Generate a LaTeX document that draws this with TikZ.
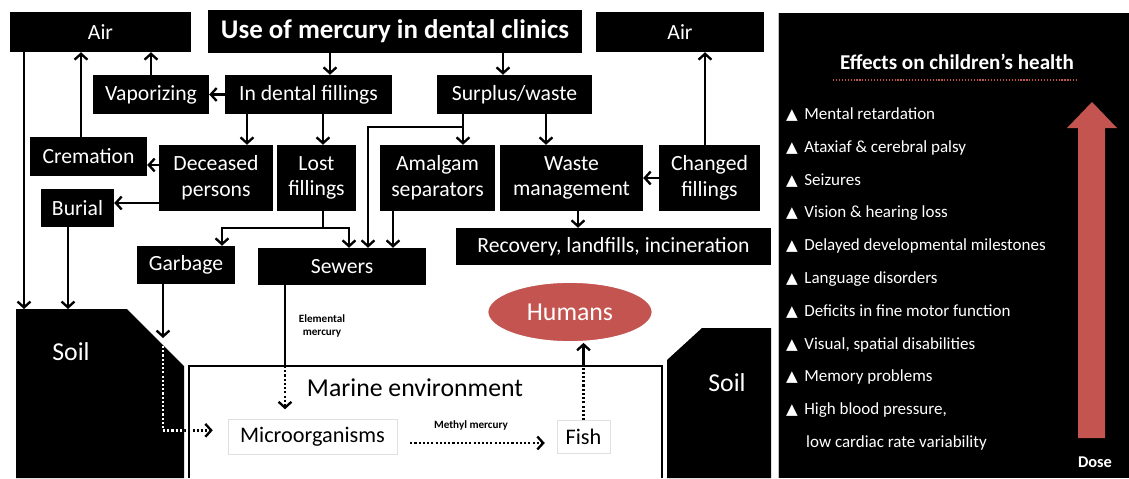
\documentclass[tikz,border=0pt]{standalone}
\usepackage{fontspec}
\setmainfont{Carlito}
\newfontfamily\symfont{DejaVu Sans}
\usetikzlibrary{arrows.meta,shapes.geometric}
\definecolor{dosered}{HTML}{C4544F}

\begin{document}
\begin{tikzpicture}[x=0.03cm,y=-0.03cm]
	\tikzstyle{blackbox}=[rectangle, fill=black, text=white, inner sep=0pt, align=center, font=\fontsize{18.5}{22}\selectfont]
	\tikzstyle{whitebox}=[rectangle, fill=white, draw=black!12, inner sep=0pt, font=\fontsize{19}{22}\selectfont]
	\tikzstyle{arr}=[-{Straight Barb[length=5pt,width=11pt]}, line width=2pt]
	\tikzstyle{dotarr}=[arr, dash pattern=on 1.8pt off 1.8pt]
	\tikzstyle{dotline}=[-, line width=2pt, dash pattern=on 1.8pt off 1.8pt]
	\tikzstyle{line}=[-, line width=2pt]
	\tikzstyle{effect}=[anchor=west, text=white, inner sep=0pt, font=\fontsize{14.5}{16}\selectfont]
	\tikzstyle{tiny}=[inner sep=0pt, align=center, font=\bfseries\fontsize{9.5}{11}\selectfont]
	\fill[white] (0,0) rectangle (1129,478);
	\useasboundingbox (0,0) rectangle (1129,478);

	% soil and sea
	\fill (16,478) -- (16,309) -- (127,309) -- (184,366) -- (184,478) -- cycle;
	\fill (667,478) -- (667,360) -- (702,328) -- (771,328) -- (771,478) -- cycle;
	\draw[line width=1.5pt] (189,478) -- (189,366) -- (662,366) -- (662,478);
	\node (soilL) [text=white, font=\fontsize{22}{24}\selectfont] at (71,352) {Soil};
	\node (soilR) [text=white, font=\fontsize{22}{24}\selectfont] at (727,383) {Soil};
	\node (marine) [font=\fontsize{22}{24}\selectfont] at (415,388) {Marine environment};

	% boxes
	\node (airL) [blackbox, minimum width=5.43cm, minimum height=1.2cm] at (100.5,32) {Air};
	\node (title) [blackbox, minimum width=11.22cm, minimum height=1.29cm, font=\bfseries\fontsize{23}{26}\selectfont] at (395,31.5) {Use of mercury in dental clinics};
	\node (airR) [blackbox, minimum width=5.04cm, minimum height=1.2cm] at (680,32) {Air};
	\node (vapor) [blackbox, minimum width=3.48cm, minimum height=1.17cm] at (151,94.5) {Vaporizing};
	\node (indental) [blackbox, minimum width=5.01cm, minimum height=1.17cm] at (308.5,94.5) {In dental fillings};
	\node (surplus) [blackbox, minimum width=4.65cm, minimum height=1.17cm] at (514.5,94.5) {Surplus/waste};
	\node (cremation) [blackbox, minimum width=3.51cm, minimum height=1.17cm] at (88.5,156.5) {Cremation};
	\node (deceased) [blackbox, minimum width=3.42cm, minimum height=1.98cm] at (216,178) {Deceased\\persons};
	\node (lost) [blackbox, minimum width=2.37cm, minimum height=1.98cm] at (316.5,178) {Lost\\fillings};
	\node (amalgam) [blackbox, minimum width=3.45cm, minimum height=1.98cm] at (437.5,178) {Amalgam\\separators};
	\node (waste) [blackbox, minimum width=4.29cm, minimum height=1.98cm] at (571.5,178) {Waste\\management};
	\node (changed) [blackbox, minimum width=3.03cm, minimum height=1.98cm] at (709.5,178) {Changed\\fillings};
	\node (burial) [blackbox, minimum width=2.19cm, minimum height=1.14cm] at (77.5,208) {Burial};
	\node (recovery) [blackbox, minimum width=9.45cm, minimum height=1.11cm] at (613.5,246.5) {Recovery, landfills, incineration};
	\node (garbage) [blackbox, minimum width=2.94cm, minimum height=1.14cm] at (186,265) {Garbage};
	\node (sewers) [blackbox, minimum width=5.04cm, minimum height=1.11cm] at (342,266.5) {Sewers};
	\node (humans) [ellipse, fill=dosered, draw=white, line width=1.5pt, text=white, minimum width=4.95cm, minimum height=1.8cm, font=\fontsize{22}{24}\selectfont] at (570,312) {Humans};
	\node (micro) [whitebox, minimum width=5.07cm, minimum height=1.05cm] at (312.5,437) {Microorganisms};
	\node (fish) [whitebox, minimum width=1.59cm, minimum height=0.99cm] at (583.5,437) {Fish};
	\node (elemental) [tiny] at (322,326) {Elemental\\mercury};
	\node (methyl) [tiny] at (471,425) {Methyl mercury};

	% guides for the connectors
	\coordinate (gTI) at (330,0);
	\coordinate (gTS) at (503,0);
	\coordinate (gVap) at (151,0);
	\coordinate (gCre) at (81,0);
	\coordinate (gDec) at (247,0);
	\coordinate (gCrem) at (0,165);
	\coordinate (gBuri) at (0,203);
	\coordinate (gLost) at (323,228);
	\coordinate (gGarb) at (222,228);
	\coordinate (gSew) at (349,228);
	\coordinate (gSurp) at (463,127);
	\coordinate (gAmSew) at (368,127);
	\coordinate (gAmal) at (393,0);
	\coordinate (gWaste) at (546,0);
	\coordinate (gChg) at (705,0);
	\coordinate (gRec) at (578,0);
	\coordinate (gAirL) at (24,309);
	\coordinate (gBur) at (68,309);
	\coordinate (gSoil) at (163,338);
	\coordinate (gDrop) at (163,346);
	\coordinate (gSea) at (285,366);

	\draw[arr] (title.south -| gTI) -- (indental.north -| gTI);
	\draw[arr] (title.south -| gTS) -- (surplus.north -| gTS);
	\draw[arr] (indental.west) -- (vapor.east);
	\draw[arr] (vapor.north -| gVap) -- (airL.south -| gVap);
	\draw[arr] (cremation.north -| gCre) -- (airL.south -| gCre);
	\draw[arr] (indental.south -| gDec) -- (deceased.north -| gDec);
	\draw[arr] (indental.south -| gLost) -- (lost.north -| gLost);
	\draw[arr] (deceased.west |- gCrem) -- (cremation.east |- gCrem);
	\draw[arr] (deceased.west |- gBuri) -- (burial.east |- gBuri);
	\draw[arr] (airL.south -| gAirL) -- (gAirL);
	\draw[arr] (burial.south -| gBur) -- (gBur);
	\draw[line] (lost.south -| gLost) -- (gLost);
	\draw[arr] (gLost) -- (gGarb) -- (garbage.north -| gGarb);
	\draw[arr] (gLost) -- (gSew) -- (sewers.north -| gSew);
	\draw[arr] (surplus.south -| gSurp) -- (amalgam.north -| gSurp);
	\draw[arr] (gSurp) -- (gAmSew) -- (sewers.north -| gAmSew);
	\draw[arr] (amalgam.south -| gAmal) -- (sewers.north -| gAmal);
	\draw[arr] (surplus.south -| gWaste) -- (waste.north -| gWaste);
	\draw[arr] (changed.west) -- (waste.east);
	\draw[arr] (changed.north -| gChg) -- (airR.south -| gChg);
	\draw[arr] (waste.south -| gRec) -- (recovery.north -| gRec);
	\draw[arr] (garbage.south -| gSoil) -- (gSoil);
	\draw[dotarr, shorten >=0.45cm] (gDrop) |- ([yshift=0.2cm]micro.west);
	\begin{scope}
		\clip (16,478) -- (16,309) -- (127,309) -- (184,366) -- (184,478) -- cycle;
		\draw[dotline, white] (gDrop) |- ([yshift=0.2cm]micro.west);
	\end{scope}
	\draw[line] (sewers.south -| gSea) -- (gSea);
	\draw[dotarr, shorten >=0.3cm] (gSea) -- (micro.north -| gSea);
	\draw[dotarr, shorten <=0.39cm, shorten >=0.36cm] ([yshift=-0.18cm]micro.east) -- ([yshift=-0.18cm]fish.west);
	\draw[dotline] (fish.north) -- (fish.north |- gSea);
	\draw[arr] (fish.north |- gSea) -- (fish.north |- humans.south);

	% effects panel
	\fill[black] (778,13) rectangle (1129,478);
	\draw[black!25] (778,13) -- (778,478);
	\node (efftitle) [text=white, font=\bfseries\fontsize{18}{20}\selectfont] at (957,62) {Effects on children’s health};
	\draw[dosered, line width=1.2pt, dash pattern=on 1pt off 1.5pt] (833,80) -- (1077,80);
	\foreach \txt [count=\i from 0] in {Mental retardation, Ataxiaf \& cerebral palsy, Seizures, Vision \& hearing loss, Delayed developmental milestones, Language disorders, Deficits in fine motor function, {Visual, spatial disabilities}, Memory problems, {High blood pressure,}}
		\node (eff\i) [effect] at (786,115+32.8*\i) {\makebox[15.5pt][l]{\symfont\fontsize{13}{14}\selectfont ▲}\txt};
	\node (eff10) [effect] at (806,443) {low cardiac rate variability};
	\fill[dosered] (1078,438) -- (1078,128) -- (1067,128) -- (1092,102) -- (1117,128) -- (1105,128) -- (1105,438) -- cycle;
	\node (dose) [text=white, font=\bfseries\fontsize{14}{16}\selectfont] at (1095,462) {Dose};
\end{tikzpicture}
\end{document}
